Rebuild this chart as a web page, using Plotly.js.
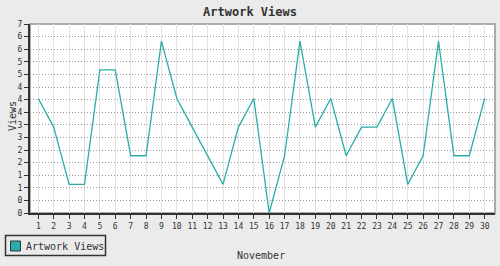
<!DOCTYPE html>
<html>
<head>
<meta charset="utf-8">
<script src="https://cdn.plot.ly/plotly-3.0.1.min.js"></script>
<style>html,body{margin:0;padding:0;background:#ebebeb;}#chart{width:500px;height:266px;}</style>
</head>
<body>
<div id="chart"></div>
<script>
var days = [1,2,3,4,5,6,7,8,9,10,11,12,13,14,15,16,17,18,19,20,21,22,23,24,25,26,27,28,29,30];
var views = [4,3,1,1,5,5,2,2,6,4,3,2,1,3,4,0,2,6,3,4,2,3,3,4,1,2,6,2,2,4];
var seriesName = "Artwork Views";
var chartTitle = "Artwork Views";
var xTitle = "November";
var yTitle = "Views";

var yMax = Math.max.apply(null, views) * 1.1;
var yDivs = 15;
var yTickVals = [], yTickText = [];
for (var k = 0; k <= yDivs; k++) {
  var v = yMax * k / yDivs;
  yTickVals.push(v);
  yTickText.push(String(Math.round(v)));
}

var teal = "#2aadaa";
var mono = "DejaVu Sans Mono, monospace";

// plot area geometry in pixels (used to place the hand-drawn legend)
var L = 30, R = 5, T = 24, B = 53, W = 500, H = 266;
var pw = W - L - R, ph = H - T - B;
function px(x) { return (x - L) / pw; }
function py(y) { return (H - B - y) / ph; }

var traces = [
  {x: days, y: views, type: "scatter", mode: "lines", name: seriesName,
   line: {color: teal, width: 1.3}, showlegend: false, hoverinfo: "skip"}
];

var layout = {
  width: W, height: H,
  paper_bgcolor: "#ebebeb", plot_bgcolor: "#ffffff",
  margin: {l: L, r: R, t: T, b: B, autoexpand: false},
  font: {family: mono, size: 8, color: "#333"},
  title: {text: chartTitle, font: {family: mono, size: 12, color: "#333", weight: "bold"},
          x: 0.5, xref: "container", y: 1 - 12/266, yref: "container", yanchor: "middle"},
  xaxis: {range: [0.46, 30.67], tickmode: "array", tickvals: days, ticktext: days.map(String),
          showgrid: true, gridcolor: "#e4e4e4", gridwidth: 1, zeroline: false,
          showline: true, linecolor: "#333", linewidth: 2,
          ticks: "outside", ticklen: 4, tickcolor: "#333", tickfont: {size: 8, family: mono},
          automargin: false, fixedrange: true},
  yaxis: {range: [0, yMax], tickmode: "array", tickvals: yTickVals, ticktext: yTickText,
          showgrid: true, gridcolor: "#999", gridwidth: 1, griddash: "1px,2px", zeroline: false,
          showline: true, linecolor: "#333", linewidth: 2,
          ticks: "outside", ticklen: 4, tickcolor: "#333", tickfont: {size: 8, family: mono},
          automargin: false, fixedrange: true},
  shapes: [
    {type: "rect", xref: "paper", yref: "paper", x0: 0, x1: 1, y0: 0, y1: 1,
     line: {color: "#aaaaaa", width: 2}, layer: "below"},
    // legend box
    {type: "rect", xref: "paper", yref: "paper", x0: px(5.5), x1: px(105.5), y0: py(255.5), y1: py(235.5),
     line: {color: "#333", width: 1.5}, fillcolor: "rgba(0,0,0,0)", layer: "above"},
    // legend swatch
    {type: "rect", xref: "paper", yref: "paper", x0: px(10.5), x1: px(20.5), y0: py(251), y1: py(241),
     line: {color: "#333", width: 1}, fillcolor: teal, layer: "above"}
  ],
  annotations: [
    {text: xTitle, xref: "paper", yref: "paper", x: px(261), y: py(255), xanchor: "center", yanchor: "middle",
     showarrow: false, font: {size: 10, family: mono, color: "#333"}},
    {text: yTitle, xref: "paper", yref: "paper", x: px(12), y: py(116), xanchor: "center", yanchor: "middle",
     textangle: -90, showarrow: false, font: {size: 10, family: mono, color: "#333"}},
    {text: seriesName, xref: "paper", yref: "paper", x: px(24), y: py(246), xanchor: "left", yanchor: "middle",
     showarrow: false, font: {size: 10, family: mono, color: "#333"}}
  ],
  showlegend: false
};

Plotly.newPlot("chart", traces, layout, {displayModeBar: false, staticPlot: true});
</script>
</body>
</html>
